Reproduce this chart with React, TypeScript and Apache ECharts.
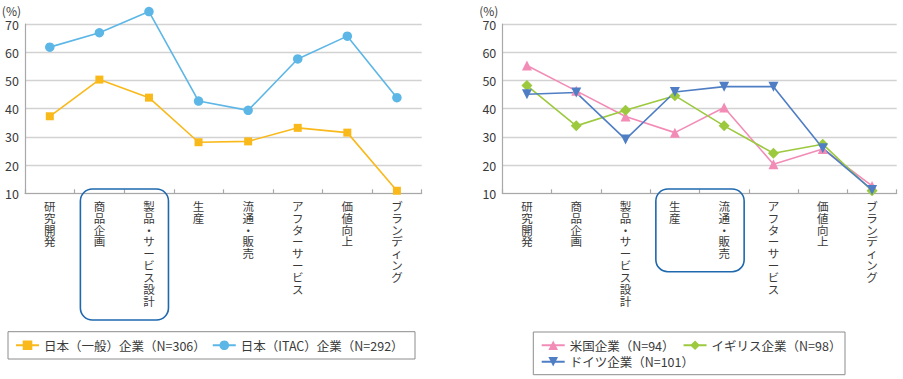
import React, { useEffect, useRef } from "react";
import * as echarts from "echarts";

const categories = [
  "研究開発",
  "商品企画",
  "製品・サービス設計",
  "生産",
  "流通・販売",
  "アフターサービス",
  "価値向上",
  "ブランディング",
];
const yMin = 10;
const yMax = 70;
const yInterval = 10;

const nameJapanGeneral = "日本（一般）企業（N=306）";
const nameJapanITAC = "日本（ITAC）企業（N=292）";
const nameUS = "米国企業（N=94）";
const nameUK = "イギリス企業（N=98）";
const nameGermany = "ドイツ企業（N=101）";

const japanGeneral = [37.3, 50.3, 43.9, 28.1, 28.4, 33.2, 31.5, 10.9];
const japanITAC = [61.8, 66.9, 74.4, 42.7, 39.4, 57.6, 65.7, 43.9];
const usValues = [55.3, 46.3, 37.2, 31.5, 40.4, 20.3, 25.7, 12.6];
const ukValues = [48.2, 33.9, 39.4, 44.6, 33.9, 24.2, 27.4, 10.9];
const germanyValues = [45.1, 45.7, 29.1, 45.9, 47.8, 47.8, 26.0, 11.2];

const FONT = "'Noto Sans CJK JP', 'Noto Sans', sans-serif";
const TEXT = "#3a3a3a";
const BOX = "#1f68ae";

export default function App() {
  const ref = useRef<HTMLDivElement>(null);

  useEffect(() => {
    if (!ref.current) return;
    const chart = echarts.init(ref.current, undefined, { renderer: "svg" });

    const grids = [
      { left: 25, top: 24, width: 396.7, height: 169.3 },
      { left: 502.3, top: 24, width: 394.4, height: 169.3 },
    ];

    const xAxis = [0, 1].map((i) => ({
      type: "category" as const,
      gridIndex: i,
      data: categories,
      boundaryGap: true,
      axisLine: { show: true, lineStyle: { color: "#a8a8a8", width: 1.2 } },
      axisTick: { show: true, inside: true, length: 4, lineStyle: { color: "#a8a8a8", width: 1.2 } },
      axisLabel: {
        interval: 0,
        margin: 6.5,
        fontFamily: FONT,
        fontSize: 11.5,
        lineHeight: 11.9,
        color: TEXT,
        verticalAlign: "top" as const,
        formatter: (v: string) => v.split("").join("\n"),
      },
    }));

    const yAxis = [0, 1].map((i) => ({
      type: "value" as const,
      gridIndex: i,
      min: yMin,
      max: yMax,
      interval: yInterval,
      name: "(%)",
      nameLocation: "end" as const,
      nameGap: 8,
      nameTextStyle: {
        fontFamily: FONT,
        fontSize: 12,
        color: TEXT,
        align: "right" as const,
        padding: [0, 4, 0, 0],
      },
      axisLine: { show: true, lineStyle: { color: "#a8a8a8", width: 1.2 } },
      axisTick: { show: false },
      splitLine: { show: true, lineStyle: { color: "#d2d2d2", width: 1.3 } },
      axisLabel: {
        margin: 6,
        fontFamily: FONT,
        fontSize: 12.5,
        color: TEXT,
      },
    }));

    const mkSeries = (
      name: string,
      data: number[],
      idx: number,
      color: string,
      symbol: string,
      symbolSize: number
    ) => ({
      type: "line" as const,
      name,
      data,
      xAxisIndex: idx,
      yAxisIndex: idx,
      clip: false,
      symbol,
      symbolSize,
      showAllSymbol: true,
      lineStyle: { color, width: 1.6 },
      itemStyle: { color, borderWidth: 0 },
      emphasis: { disabled: true },
    });

    const downTri = "path://M0,0L2,0L1,2Z";

    const legendCommon = {
      orient: "horizontal" as const,
      padding: 0,
      itemWidth: 23,
      itemHeight: 12,
      selectedMode: false,
      textStyle: { fontFamily: FONT, fontSize: 12.5, color: TEXT },
    };

    chart.setOption({
      animation: false,
      grid: grids,
      xAxis,
      yAxis,
      legend: [
        { ...legendCommon, data: [nameJapanGeneral, nameJapanITAC], left: 15, top: 339, itemGap: 6 },
        { ...legendCommon, data: [nameUS, nameUK], left: 540.7, top: 339, itemGap: 8 },
        { ...legendCommon, data: [nameGermany], left: 540.7, top: 355.5, itemGap: 8 },
      ],
      series: [
        mkSeries(nameJapanGeneral, japanGeneral, 0, "#f9b91b", "rect", 8),
        mkSeries(nameJapanITAC, japanITAC, 0, "#5cb6e6", "circle", 9.5),
        mkSeries(nameUS, usValues, 1, "#f28cb6", "triangle", 10),
        mkSeries(nameUK, ukValues, 1, "#9cc93e", "diamond", 11),
        mkSeries(nameGermany, germanyValues, 1, "#4f7ec4", downTri, 10),
      ],
    });

    const px = (axis: number, cat: string) =>
      chart.convertToPixel({ xAxisIndex: axis }, cat) as number;

    const lx1 = px(0, categories[1]) - 19;
    const lx2 = px(0, categories[2]) + 19.5;
    const rx1 = px(1, categories[3]) - 19;
    const rx2 = px(1, categories[4]) + 20;

    chart.setOption({
      graphic: [
        {
          type: "rect",
          shape: { x: lx1, y: 189, width: lx2 - lx1, height: 131, r: 12 },
          style: { fill: "none", stroke: BOX, lineWidth: 1.6 },
          z: 10,
        },
        {
          type: "rect",
          shape: { x: rx1, y: 189, width: rx2 - rx1, height: 82.7, r: 12 },
          style: { fill: "none", stroke: BOX, lineWidth: 1.6 },
          z: 10,
        },
        {
          type: "rect",
          shape: { x: 8, y: 331.7, width: 407, height: 27.3 },
          style: { fill: "none", stroke: "#8c8c8c", lineWidth: 1 },
        },
        {
          type: "rect",
          shape: { x: 533.3, y: 332, width: 311.7, height: 42.7 },
          style: { fill: "none", stroke: "#8c8c8c", lineWidth: 1 },
        },
      ],
    });

    return () => chart.dispose();
  }, []);

  return (
    <div
      ref={ref}
      style={{ position: "absolute", left: 0, top: 0, width: 903, height: 379 }}
    />
  );
}
